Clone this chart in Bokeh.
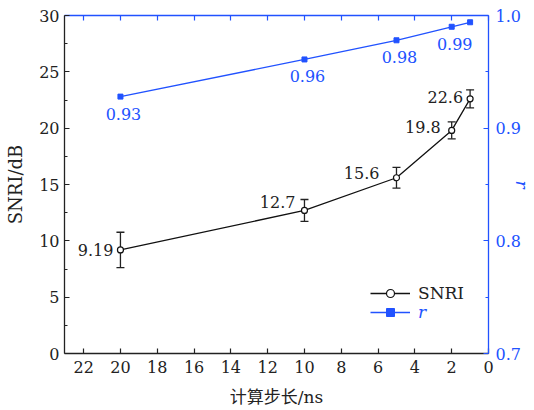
from bokeh.plotting import figure
from bokeh.models import (ColumnDataSource, Range1d, LinearAxis, FixedTicker, Whisker,
                          TeeHead, Legend, LegendItem)
from bokeh.core.properties import value
from bokeh.embed import file_html
from bokeh.resources import INLINE

# ---- data ----
step_ns = [20, 10, 5, 2, 1]
snri = [9.19, 12.7, 15.6, 19.8, 22.6]
snri_err = [1.57, 0.97, 0.92, 0.75, 0.80]
snri_labels = ["9.19", "12.7", "15.6", "19.8", "22.6"]
r_vals = [0.928, 0.961, 0.978, 0.990, 0.994]
r_labels = ["0.93", "0.96", "0.98", "0.99", ""]
x_ticks = [0, 2, 4, 6, 8, 10, 12, 14, 16, 18, 20, 22]
y_ticks = [0, 5, 10, 15, 20, 25, 30]
r_ticks = [0.7, 0.8, 0.9, 1.0]

# ---- style ----
BLUE = "#2152ff"
DARK = "#222222"
FONT = "DejaVu Serif"
snri_label_dx = [-7, -9, -17, -11, -7]
snri_label_dy = [0, -8, -5, -3, -2]

p = figure(width=534, height=410, output_backend="svg", toolbar_location=None,
           x_range=Range1d(23.04, 0), y_range=Range1d(0, 30),
           x_axis_location=None, y_axis_location=None,
           min_border_left=64, min_border_right=46, min_border_top=15, min_border_bottom=57)
p.outline_line_color = None
p.xgrid.visible = False
p.ygrid.visible = False
p.extra_y_ranges = {"r": Range1d(0.7, 1.0)}


def style_axis(ax, color):
    ax.axis_line_color = color
    ax.axis_line_width = 1.3
    ax.major_tick_line_color = color
    ax.minor_tick_line_color = color
    ax.major_tick_line_width = 1.2
    ax.minor_tick_line_width = 1.2
    ax.major_tick_in = 5
    ax.major_tick_out = 0
    ax.minor_tick_in = 3
    ax.minor_tick_out = 0
    ax.major_label_text_font = FONT
    ax.major_label_text_font_size = "16px"
    ax.major_label_text_color = color
    ax.axis_label_text_font = FONT
    ax.axis_label_text_font_style = "normal"
    ax.axis_label_text_color = color


# bottom axis
xb = LinearAxis(ticker=FixedTicker(ticks=x_ticks, minor_ticks=[]),
                axis_label="计算步长/ns")
style_axis(xb, DARK)
xb.major_label_standoff = 7
xb.axis_label_text_font = "DejaVu Serif, Noto Sans CJK SC"
xb.axis_label_text_font_size = "17px"
xb.axis_label_standoff = 11
p.add_layout(xb, "below")

# top axis (ticks only)
xt = LinearAxis(ticker=FixedTicker(ticks=x_ticks, minor_ticks=[]))
style_axis(xt, BLUE)
xt.major_label_overrides = {t: "" for t in x_ticks}
xt.major_label_standoff = 0
p.add_layout(xt, "above")

# left axis
yl = LinearAxis(ticker=FixedTicker(ticks=y_ticks,
                                   minor_ticks=[2.5, 7.5, 12.5, 17.5, 22.5, 27.5]),
                axis_label="SNRI/dB")
style_axis(yl, DARK)
yl.major_label_standoff = 5
yl.axis_label_text_font_size = "18px"
yl.axis_label_standoff = 10
p.add_layout(yl, "left")

# right axis
yr = LinearAxis(y_range_name="r",
                ticker=FixedTicker(ticks=r_ticks, minor_ticks=[0.75, 0.85, 0.95]),
                axis_label="r")
style_axis(yr, BLUE)
yr.major_label_overrides = {0.7: "0.7", 0.8: "0.8", 0.9: "0.9", 1.0: "1.0"}
yr.major_label_standoff = 7
yr.axis_label_text_font_style = "italic"
yr.axis_label_text_font_size = "17px"
yr.axis_label_standoff = -12
p.add_layout(yr, "right")

# ---- SNRI series ----
src = ColumnDataSource(dict(
    x=step_ns, y=snri,
    lo=[v - e for v, e in zip(snri, snri_err)],
    hi=[v + e for v, e in zip(snri, snri_err)],
    lab=snri_labels, dx=snri_label_dx, dy=snri_label_dy))

w = Whisker(base="x", lower="lo", upper="hi", source=src, dimension="height",
            line_color=DARK, line_width=1.3,
            upper_head=TeeHead(size=8, line_color=DARK, line_width=1.3),
            lower_head=TeeHead(size=8, line_color=DARK, line_width=1.3))
p.add_layout(w)

snri_line = p.line("x", "y", source=src, line_color="#111111", line_width=1.3)
snri_pts = p.scatter("x", "y", source=src, marker="circle", size=6,
                     fill_color="white", line_color="#111111", line_width=1.2)
p.text("x", "y", text="lab", source=src, x_offset="dx", y_offset="dy",
       text_align="right", text_baseline="middle", text_font=value(FONT),
       text_font_size="16px", text_color=DARK)

# ---- r series ----
rsrc = ColumnDataSource(dict(x=step_ns, y=r_vals, lab=r_labels))
r_line = p.line("x", "y", source=rsrc, y_range_name="r", line_color=BLUE, line_width=1.3)
r_pts = p.scatter("x", "y", source=rsrc, y_range_name="r", marker="square", size=5,
                  fill_color=BLUE, line_color=BLUE)
p.text("x", "y", text="lab", source=rsrc, y_range_name="r", x_offset=3, y_offset=17,
       text_align="center", text_baseline="middle", text_font=value(FONT),
       text_font_size="16px", text_color=BLUE)


# ---- legends ----
def make_legend(label, renderers, color, style, loc):
    lg = Legend(items=[LegendItem(label=label, renderers=renderers)],
                location=loc, orientation="vertical",
                border_line_color=None, background_fill_alpha=0,
                padding=0, margin=0, spacing=0,
                glyph_width=40, glyph_height=20, label_height=20,
                label_standoff=8, label_text_font=FONT,
                label_text_font_size="17px", label_text_color=color,
                label_text_font_style=style, label_text_baseline="middle")
    p.add_layout(lg)


make_legend("SNRI", [snri_line, snri_pts], DARK, "normal", (306, 50))
make_legend("r", [r_line, r_pts], BLUE, "italic", (306, 31))

open("out.html", "w").write(file_html(p, INLINE))
